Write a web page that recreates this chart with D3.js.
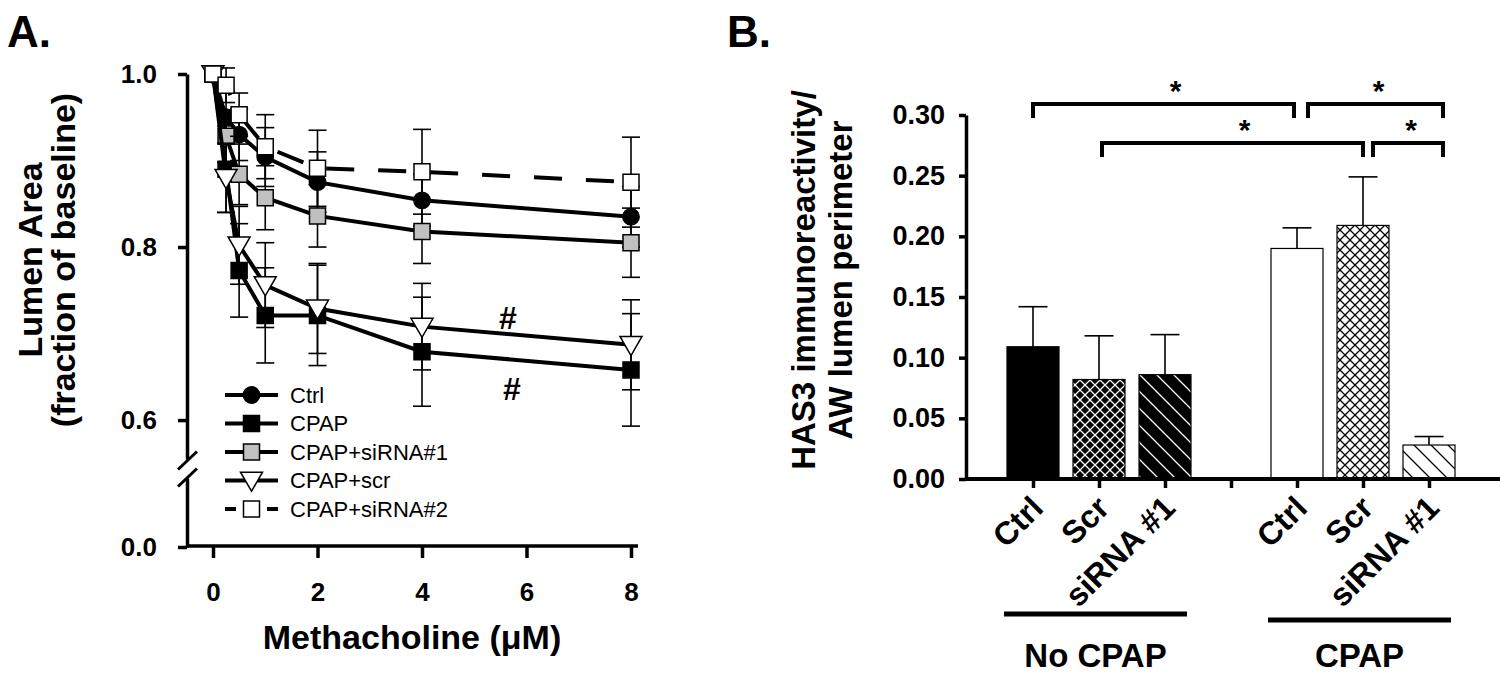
<!DOCTYPE html>
<html>
<head>
<meta charset="utf-8">
<script src="https://cdnjs.cloudflare.com/ajax/libs/d3/7.8.5/d3.min.js"></script>
<style>
body { margin: 0; background: #fff; }
svg { display: block; font-family: "Liberation Sans", Arial, sans-serif; }
</style>
</head>
<body>
<div id="plot"></div>
<script>
// ---- Panel A: lumen area vs methacholine ----
var doses = [0, 0.25, 0.5, 1, 2, 4, 8];
var ctrlArea    = [1.0, 0.950, 0.930, 0.904, 0.875, 0.854, 0.835];
var ctrlErr     = [0, 0.030, 0.030, 0.034, 0.035, 0.030, 0.035];
var cpapArea    = [1.0, 0.890, 0.773, 0.721, 0.721, 0.679, 0.658];
var cpapErr     = [0, 0.050, 0.054, 0.055, 0.058, 0.063, 0.065];
var sirna1Area  = [1.0, 0.928, 0.884, 0.857, 0.836, 0.818, 0.805];
var sirna1Err   = [0, 0.030, 0.035, 0.037, 0.036, 0.037, 0.040];
var scrArea     = [1.0, 0.880, 0.802, 0.756, 0.729, 0.708, 0.687];
var scrErr      = [0, 0.040, 0.045, 0.049, 0.052, 0.050, 0.052];
var sirna2Area  = [1.0, 0.987, 0.953, 0.916, 0.891, 0.887, 0.875];
var sirna2Err   = [0, 0.020, 0.025, 0.037, 0.044, 0.049, 0.052];
var seriesNames = ["Ctrl", "CPAP", "CPAP+siRNA#1", "CPAP+scr", "CPAP+siRNA#2"];
var doseTicks = [0, 2, 4, 6, 8];
var areaTicks = [0.6, 0.8, 1.0];
var areaLowTicks = [0.0];

// ---- Panel B: HAS3 bars ----
var barKeys = ["n1", "n2", "n3", "gap", "c1", "c2", "c3"];
var barLabels = ["Ctrl", "Scr", "siRNA #1", "", "Ctrl", "Scr", "siRNA #1"];
var has3 = [0.109, 0.082, 0.086, null, 0.190, 0.209, 0.028];
var has3Err = [0.033, 0.036, 0.033, null, 0.017, 0.040, 0.007];
var has3Ticks = [0, 0.05, 0.10, 0.15, 0.20, 0.25, 0.30];
var groupNames = ["No CPAP", "CPAP"];
var bracketPairs = [["n1", "c1"], ["c1", "c3"], ["n2", "c2"], ["c2", "c3"]];
var bracketRows = [0, 0, 1, 1];

var width = 1500, height = 673;
var svg = d3.select("#plot").append("svg")
    .attr("width", width)
    .attr("height", height);

var defs = svg.append("defs");

function hatch(id, bg, fg, size, cross) {
    var p = defs.append("pattern")
        .attr("id", id)
        .attr("patternUnits", "userSpaceOnUse")
        .attr("width", size).attr("height", size);
    p.append("rect").attr("width", size).attr("height", size).attr("fill", bg);
    var s = size;
    // "\" lines
    p.append("path").attr("d", "M0,0L" + s + "," + s + "M" + (-s) + ",0L" + s + "," + (2 * s) + "M0," + (-s) + "L" + (2 * s) + "," + s)
        .attr("stroke", fg).attr("stroke-width", 1.3);
    if (cross) {
        p.append("path").attr("d", "M0," + s + "L" + s + ",0M" + (-s) + "," + s + "L" + s + "," + (-s) + "M0," + (2 * s) + "L" + (2 * s) + ",0")
            .attr("stroke", fg).attr("stroke-width", 1.3);
    }
}
hatch("crossW", "#000", "#fff", 10, true);
hatch("diagW", "#000", "#fff", 17, false);
hatch("crossB", "#fff", "#000", 10, true);
hatch("diagB", "#fff", "#000", 17, false);
var barFills = ["#000", "url(#crossW)", "url(#diagW)", "none", "#fff", "url(#crossB)", "url(#diagB)"];

// panel letters
svg.append("text").attr("x", 7).attr("y", 47).attr("font-size", 44).attr("font-weight", "bold").text("A.");
svg.append("text").attr("x", 727).attr("y", 47).attr("font-size", 44).attr("font-weight", "bold").text("B.");

// ================= Panel A =================
var x = d3.scaleLinear().domain([0, 8]).range([213, 631]);
var y = d3.scaleLinear().domain([0.555, 1.0]).range([459, 74]);
var yLow = d3.scaleLinear().domain([0, 0.08]).range([547, 478]);
var axisX = 187, axisY = 546;

var gA = svg.append("g");

var yAxis = gA.append("g").attr("transform", "translate(" + axisX + ",0)")
    .call(d3.axisLeft(y).tickValues(areaTicks).tickSize(9).tickSizeOuter(0).tickPadding(21).tickFormat(d3.format(".1f")));
var yAxisLow = gA.append("g").attr("transform", "translate(" + axisX + ",0)")
    .call(d3.axisLeft(yLow).tickValues(areaLowTicks).tickSize(9).tickSizeOuter(0).tickPadding(21).tickFormat(d3.format(".1f")));
var xAxis = gA.append("g").attr("transform", "translate(0," + axisY + ")")
    .call(d3.axisBottom(x).tickValues(doseTicks).tickSize(12).tickSizeOuter(0).tickPadding(25));
xAxis.select(".domain").remove();
gA.append("line").attr("x1", axisX - 1).attr("x2", 638).attr("y1", axisY).attr("y2", axisY)
    .attr("stroke", "#000").attr("stroke-width", 3.5);

[yAxis, yAxisLow, xAxis].forEach(function(a) {
    a.selectAll(".domain").attr("stroke-width", 3.5);
    a.selectAll(".tick line").attr("stroke-width", 3.5);
    a.selectAll(".tick text").attr("font-size", 26).attr("font-weight", "bold").attr("fill", "#000")
        .attr("font-family", "Liberation Sans, Arial, sans-serif");
});

// axis break slashes
[460.5, 477.5].forEach(function(cy) {
    gA.append("line").attr("x1", axisX - 9).attr("y1", cy + 9).attr("x2", axisX + 10).attr("y2", cy - 9)
        .attr("stroke", "#000").attr("stroke-width", 3);
});

// axis titles
gA.append("text").attr("transform", "translate(42,260) rotate(-90)")
    .attr("text-anchor", "middle").attr("font-size", 34).attr("font-weight", "bold").text("Lumen Area");
gA.append("text").attr("transform", "translate(75,260) rotate(-90)")
    .attr("text-anchor", "middle").attr("font-size", 34).attr("font-weight", "bold").text("(fraction of baseline)");
gA.append("text").attr("x", 412).attr("y", 649)
    .attr("text-anchor", "middle").attr("font-size", 34).attr("font-weight", "bold").text("Methacholine (\u03bcM)");

var seriesVals = [ctrlArea, cpapArea, sirna1Area, scrArea, sirna2Area];
var seriesErrs = [ctrlErr, cpapErr, sirna1Err, scrErr, sirna2Err];
var symTypes = [d3.symbolCircle, d3.symbolSquare, d3.symbolSquare, d3.symbolTriangle, d3.symbolSquare];
var symSizes = [210, 256, 256, 210, 256];
var symFills = ["#000", "#000", "#c0c0c0", "#fff", "#fff"];
var symRot = [0, 0, 0, 180, 0];
var dashes = [null, null, null, null, "28,24"];

var line = d3.line().x(function(d) { return x(d.dose); }).y(function(d) { return y(d.v); });

seriesVals.forEach(function(vals, i) {
    var pts = doses.map(function(d, j) { return { dose: d, v: vals[j], e: seriesErrs[i][j] }; });
    var g = gA.append("g");
    // error bars
    pts.filter(function(p) { return p.e > 0; }).forEach(function(p) {
        var cx = x(p.dose);
        g.append("line").attr("x1", cx).attr("x2", cx).attr("y1", y(p.v + p.e)).attr("y2", y(p.v - p.e))
            .attr("stroke", "#000").attr("stroke-width", 1.6);
        [p.v + p.e, p.v - p.e].forEach(function(v) {
            g.append("line").attr("x1", cx - 9).attr("x2", cx + 9).attr("y1", y(v)).attr("y2", y(v))
                .attr("stroke", "#000").attr("stroke-width", 1.6);
        });
    });
    g.append("path").datum(pts).attr("d", line)
        .attr("fill", "none").attr("stroke", "#000").attr("stroke-width", 4)
        .attr("stroke-dasharray", dashes[i]);
    g.selectAll(".m").data(pts).enter().append("path")
        .attr("d", d3.symbol().type(symTypes[i]).size(symSizes[i]))
        .attr("transform", function(p) { return "translate(" + x(p.dose) + "," + (y(p.v) + (symRot[i] ? -2 : 0)) + ") rotate(" + symRot[i] + ")"; })
        .attr("fill", symFills[i]).attr("stroke", "#000").attr("stroke-width", 1.5);
});

// significance marks
gA.append("text").attr("x", 508).attr("y", 318).attr("dy", "0.35em").attr("text-anchor", "middle")
    .attr("font-size", 32).attr("font-weight", "bold").text("#");
gA.append("text").attr("x", 512).attr("y", 389).attr("dy", "0.35em").attr("text-anchor", "middle")
    .attr("font-size", 32).attr("font-weight", "bold").text("#");

// legend
var legend = gA.append("g").attr("transform", "translate(225,395)");
seriesNames.forEach(function(name, i) {
    var row = legend.append("g").attr("transform", "translate(0," + (i * 28.5) + ")");
    row.append("line").attr("x1", 0).attr("x2", 53).attr("y1", 0).attr("y2", 0)
        .attr("stroke", "#000").attr("stroke-width", 4)
        .attr("stroke-dasharray", dashes[i] ? "11,31" : null);
    row.append("path").attr("d", d3.symbol().type(symTypes[i]).size(symSizes[i]))
        .attr("transform", "translate(26.5," + (symRot[i] ? -2 : 0) + ") rotate(" + symRot[i] + ")")
        .attr("fill", symFills[i]).attr("stroke", "#000").attr("stroke-width", 1.5);
    row.append("text").attr("x", 65).attr("y", 0).attr("dy", "0.36em")
        .attr("font-size", 22).text(name);
});

// ================= Panel B =================
var xb = d3.scalePoint().domain(barKeys).range([1033, 1429]);
var yb = d3.scaleLinear().domain([0, 0.30]).range([479, 115]);
var bAxisX = 966, bAxisY = 479, barW = 52;

var gB = svg.append("g");
var bars = barKeys.map(function(k, i) { return { key: k, v: has3[i], e: has3Err[i], fill: barFills[i], label: barLabels[i] }; });

gB.selectAll(".bar").data(bars.filter(function(d) { return d.v !== null; })).enter().append("rect")
    .attr("x", function(d) { return xb(d.key) - barW / 2; })
    .attr("width", barW)
    .attr("y", function(d) { return yb(d.v); })
    .attr("height", function(d) { return yb(0) - yb(d.v); })
    .attr("fill", function(d) { return d.fill; })
    .attr("stroke", "#000").attr("stroke-width", 1.2);

bars.filter(function(d) { return d.v !== null; }).forEach(function(d) {
    var cx = xb(d.key);
    gB.append("line").attr("x1", cx).attr("x2", cx).attr("y1", yb(d.v)).attr("y2", yb(d.v + d.e))
        .attr("stroke", "#000").attr("stroke-width", 1.6);
    gB.append("line").attr("x1", cx - 14.5).attr("x2", cx + 14.5).attr("y1", yb(d.v + d.e)).attr("y2", yb(d.v + d.e))
        .attr("stroke", "#000").attr("stroke-width", 1.6);
});

var yAxisB = gB.append("g").attr("transform", "translate(" + bAxisX + ",0)")
    .call(d3.axisLeft(yb).tickValues(has3Ticks).tickSize(7).tickSizeOuter(0).tickPadding(14).tickFormat(d3.format(".2f")));
var xAxisB = gB.append("g").attr("transform", "translate(0," + bAxisY + ")")
    .call(d3.axisBottom(xb).tickSize(9).tickSizeOuter(0).tickFormat(""));
xAxisB.select(".domain").remove();
gB.append("line").attr("x1", bAxisX - 1).attr("x2", 1500).attr("y1", bAxisY).attr("y2", bAxisY)
    .attr("stroke", "#000").attr("stroke-width", 4);
[yAxisB, xAxisB].forEach(function(a) {
    a.selectAll(".domain").attr("stroke-width", 3.5);
    a.selectAll(".tick line").attr("stroke-width", 3.5);
    a.selectAll(".tick text").attr("font-size", 27).attr("font-weight", "bold").attr("fill", "#000")
        .attr("font-family", "Liberation Sans, Arial, sans-serif");
});

// rotated category labels
gB.selectAll(".cat").data(bars.filter(function(d) { return d.label; })).enter().append("text")
    .attr("transform", function(d) { return "translate(" + (xb(d.key) + 12) + ",510) rotate(-45)"; })
    .attr("text-anchor", "end").attr("font-size", 32).attr("font-weight", "bold")
    .text(function(d) { return d.label; });

// group underlines and names
var groupSpans = [["n1", "n3"], ["c1", "c3"]];
groupSpans.forEach(function(s, i) {
    var x1 = xb(s[0]) - 29, x2 = xb(s[1]) + 22, ly = i ? 620 : 614;
    gB.append("line").attr("x1", x1).attr("x2", x2).attr("y1", ly).attr("y2", ly)
        .attr("stroke", "#000").attr("stroke-width", 5);
    gB.append("text").attr("x", (x1 + x2) / 2).attr("y", 667).attr("text-anchor", "middle")
        .attr("font-size", 33).attr("font-weight", "bold").text(groupNames[i]);
});

// y title
gB.append("text").attr("transform", "translate(815,280) rotate(-90)")
    .attr("text-anchor", "middle").attr("font-size", 33).attr("font-weight", "bold").text("HAS3 immunoreactivity/");
gB.append("text").attr("transform", "translate(852,280) rotate(-90)")
    .attr("text-anchor", "middle").attr("font-size", 33).attr("font-weight", "bold").text("AW lumen perimeter");

// significance brackets
bracketPairs.forEach(function(pr, i) {
    var row = bracketRows[i];
    var by = row ? 143 : 104;
    var second = i % 2 === 1;
    var x1 = xb(pr[0]) + (second ? (row ? 10 : 11) : (row ? 3 : 0));
    var x2 = xb(pr[1]) + (second ? 14 : (row ? 0 : -3));
    gB.append("path")
        .attr("d", "M" + x1 + "," + (by + 14) + "V" + by + "H" + x2 + "V" + (by + 14))
        .attr("fill", "none").attr("stroke", "#000").attr("stroke-width", 4);
    gB.append("text").attr("x", (x1 + x2) / 2 + (second ? 3 : 12)).attr("y", by - 3)
        .attr("text-anchor", "middle").attr("font-size", 30).attr("font-weight", "bold").text("*");
});
</script>
</body>
</html>
